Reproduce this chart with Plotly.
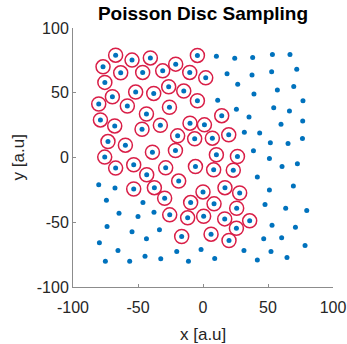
import plotly.graph_objects as go

# Samples that were accepted with their exclusion disc
disc_x = [-67.2, -54.6, -40.5, -4.3, -76.9, -63.3, -46.4, -31.0, -21.0, -10.2,
          2.1, -75.5, -69.7, -80.2, -58.2, -51.8, -37.9, -26.4, -14.8, -4.3,
          -25.8, -43.5, -78.9, -67.9, -46.9, -32.8, -10.0, 1.1, -19.5, -6.4,
          -73.1, -59.7, -38.9, -21.2, -75.6, -67.2, -53.3, -28.7, -5.8, 14.4,
          7.2, 19.8, 10.3, 26.5, 8.2, 23.3, 16.9, 28.2, 0.0, 8.5,
          25.9, 0.5, 16.7, 35.9, 25.7, 6.2, 20.0, -43.3, -18.7, -53.3,
          -37.4, -29.5, -9.5, -25.6, -11.8, -16.4]
disc_y = [79.0, 75.2, 76.9, 78.8, 70.0, 65.4, 65.7, 66.9, 72.1, 65.7,
          61.5, 58.0, 46.9, 41.3, 39.8, 50.5, 49.5, 54.6, 51.3, 43.8,
          38.8, 33.6, 29.0, 24.4, 21.8, 24.9, 26.5, 25.2, 16.7, 14.4,
          12.3, 9.5, 4.1, 5.4, 0.3, -8.2, -5.6, -8.0, -7.0, 32.3,
          14.9, 17.5, 2.1, 0.8, -9.5, -9.8, -23.3, -27.4, -26.6, -35.8,
          -39.2, -45.4, -47.4, -48.9, -54.6, -59.2, -64.1, -13.3, -18.2, -24.3,
          -23.3, -31.5, -34.8, -44.3, -46.6, -61.0]

# Remaining samples
free_x = [10.3, 24.4, 38.2, 53.4, 66.9, 18.5, 37.7, 52.8, 72.1, 26.7,
          39.2, 57.2, 69.8, 11.3, 76.9, 25.7, 35.4, 54.4, 66.5, 60.0,
          76.7, 31.8, 43.6, 51.8, 65.4, 76.5, 38.8, 51.1, 72.6, 60.8,
          41.8, 69.5, 51.1, 47.7, 63.6, 79.8, 53.1, 71.1, 46.7, 60.5,
          78.5, -1.5, 31.5, 52.3, 9.0, 41.8, 64.6, -80.2, -67.7, -74.3,
          -46.2, -64.6, -50.0, -37.7, -73.8, -54.6, -33.5, -43.5, -79.7, -65.4,
          -20.2, -75.1, -56.4, -44.6, -32.5, -11.2]
free_y = [78.2, 76.7, 77.2, 79.5, 79.5, 64.6, 63.8, 66.2, 68.2, 56.5,
          49.0, 52.1, 54.9, 44.2, 43.8, 37.2, 31.3, 38.5, 35.9, 25.7,
          28.2, 19.5, 19.0, 11.3, 10.8, 14.6, 5.2, -0.8, -4.8, -6.9,
          -15.1, -22.0, -25.1, -36.2, -39.2, -41.0, -52.3, -53.8, -62.8, -62.0,
          -67.9, -71.0, -71.8, -72.5, -77.9, -79.2, -77.2, -21.0, -23.5, -33.1,
          -34.8, -43.1, -45.6, -42.3, -53.3, -57.4, -55.8, -62.8, -65.8, -71.8,
          -72.5, -80.2, -80.2, -76.2, -78.2, -80.2]

axis_ticks = [-100, -50, 0, 50, 100]

BLUE = "#0072BD"
RED = "#D91E47"
TXT = "#262626"
AX = "#8c8c8c"
FONT = "Liberation Sans, Arial, sans-serif"

fig = go.Figure()
fig.add_trace(go.Scatter(
    x=free_x + disc_x, y=free_y + disc_y, mode="markers",
    marker=dict(color=BLUE, size=5, line=dict(width=0)),
    hoverinfo="skip", showlegend=False))
fig.add_trace(go.Scatter(
    x=disc_x, y=disc_y, mode="markers",
    marker=dict(symbol="circle-open", color=RED, size=14,
                line=dict(width=1.5, color=RED)),
    hoverinfo="skip", showlegend=False))

axis_common = dict(
    range=[-100, 100], tickvals=axis_ticks, ticktext=[str(t) for t in axis_ticks],
    showgrid=False, zeroline=False, showline=True, linecolor=AX, linewidth=1,
    ticks="inside", ticklen=3, tickcolor=AX, automargin=False,
    tickfont=dict(family=FONT, size=16, color=TXT),
)

fig.update_layout(
    width=347, height=344,
    margin=dict(l=73, r=14, t=28, b=57),
    paper_bgcolor="white", plot_bgcolor="white",
    title=dict(text="<b>Poisson Disc Sampling</b>", x=0.585, xanchor="center",
               y=0.962, yanchor="middle",
               font=dict(family=FONT, size=19, color="black")),
    xaxis=dict(**axis_common, ticklabelstandoff=6),
    yaxis=dict(**axis_common),
    annotations=[
        dict(text="x [a.u]", xref="paper", yref="paper", x=0.5, y=-0.183,
             xanchor="center", yanchor="middle", showarrow=False,
             font=dict(family=FONT, size=17, color=TXT)),
        dict(text="y [a.u]", xref="paper", yref="paper", x=-0.208, y=0.5,
             xanchor="center", yanchor="middle", showarrow=False, textangle=-90,
             font=dict(family=FONT, size=17, color=TXT)),
    ],
)

fig.write_html("out.html")
